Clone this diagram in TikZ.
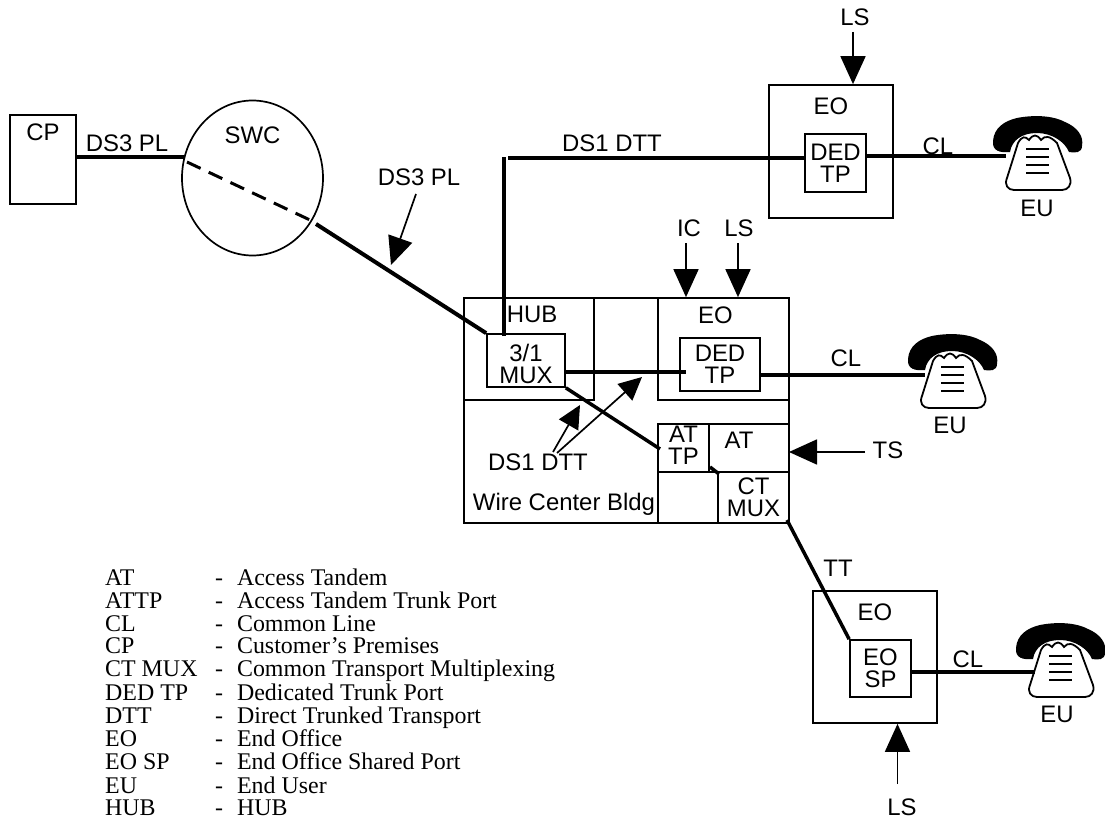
\documentclass[tikz,border=0pt]{standalone}
\usepackage{fontspec}
\setmainfont{Liberation Sans}
\newfontfamily\legendfont{Liberation Serif}
\usetikzlibrary{shapes,arrows.meta,positioning}

\begin{document}
\begin{tikzpicture}[
    x=1bp,y=-1bp,
    node distance=4bp,
    box node/.style={rectangle,draw,line width=1.7bp,inner sep=0pt,align=center,font=\fontsize{24}{22}\selectfont},
    text node/.style={inner sep=0pt,align=center,font=\fontsize{24}{22}\selectfont},
    pipe/.style={line width=4bp},
    thin pipe/.style={line width=3.5bp},
    arrow/.style={-{Stealth[length=28bp,width=25bp,inset=0pt]},line width=1.7bp},
    small arrow/.style={-{Stealth[length=23bp,width=22bp,inset=0pt]},line width=1.7bp},
    phone/.pic={
        % Auricular
        \fill[black] (-44,-67) .. controls (-43,-80) and (-33,-87) .. (-20,-90)
            .. controls (-5,-93) and (15,-93) .. (28,-86)
            .. controls (40,-81) and (47,-72) .. (45,-62)
            .. controls (45,-55) and (38,-55) .. (32,-56)
            .. controls (28,-66) and (15,-75) .. (0,-75)
            .. controls (-15,-75) and (-25,-68) .. (-27,-56)
            .. controls (-37,-55) and (-45,-57) .. (-44,-67) -- cycle;
        % Cuerpo
        \draw[fill=white,line width=1.8bp] (-19,-65) .. controls (-15,-72) and (-12,-72) .. (-8,-68)
            .. controls (-4,-74) and (0,-74) .. (4,-68)
            .. controls (8,-73) and (13,-72) .. (20,-65)
            -- (33,-30) .. controls (35,-23) and (31,-18) .. (25,-18)
            -- (-23,-18) .. controls (-29,-18) and (-33,-23) .. (-30,-30) -- cycle;
        \foreach \ypos in {-59,-51,-43,-35}
            \draw[line width=2.8bp] (-11,\ypos) -- (12,\ypos);
    }
]
\useasboundingbox (0,0) rectangle (1105,819);

% CP y SWC
\node[box node, minimum width=66bp, minimum height=89bp] (cp) at (43,159.5) {};
\node[text node, below=9bp of cp.north] (cplabel) {CP};
\node[draw, ellipse, line width=1.7bp, minimum width=141bp, minimum height=155bp, inner sep=0pt] (swc) at (252.5,178) {};
\node[text node, below=27bp of swc.north] (swclabel) {SWC};
\coordinate (cpout) at (76,157);
\coordinate (swcin) at (184,157);
\coordinate (swcdash) at (187,162);
\coordinate (swcout) at (310,220);
\coordinate (swcexit) at (316,224);
\node[text node] (dsleft) at (127,143) {DS3 PL};

% Edificio
\node[box node, minimum width=325bp, minimum height=225bp] (bldg) at (626.5,410.5) {};
\node[box node, minimum width=130bp, minimum height=102bp] (hub) at (529,349) {};
\node[text node, below=9bp of hub.north, xshift=3bp] (hublabel) {HUB};
\node[box node, minimum width=78bp, minimum height=53bp] (mux) at (526,360.5) {};
\node[text node, yshift=-3bp] (muxlabel) at (mux) {3/1\\MUX};
\node[box node, minimum width=131bp, minimum height=102bp] (eomid) at (723.5,349) {};
\node[text node, below=9bp of eomid.north, xshift=-8bp] (eomidlabel) {EO};
\node[box node, minimum width=80bp, minimum height=53bp] (dedmid) at (720,364.5) {DED\\TP};
\node[box node, minimum width=51bp, minimum height=48bp] (attp) at (683.5,448) {};
\node[text node, yshift=3bp] (attplabel) at (attp) {AT\\TP};
\node[box node, minimum width=80bp, minimum height=48bp] (at) at (749,448) {};
\node[text node, below=8.5bp of at.north, xshift=-10bp] (atlabel) {AT};
\node[box node, minimum width=60bp, minimum height=51bp] (emptycell) at (688,497.5) {};
\node[box node, minimum width=71bp, minimum height=51bp] (ctmux) at (753.5,497.5) {CT\\MUX};
\node[text node] (wirelabel) at (564,504) {Wire Center Bldg};
\node[text node] (dtlabel) at (538,462) {DS1 DTT};
\coordinate (tipone) at (580,405);
\coordinate (tiptwo) at (642,377);
\coordinate (tailone) at (553,452);
\coordinate (tailtwo) at (557,453);
\coordinate (muxtop) at (504,336);
\coordinate (muxright) at (565,372);
\coordinate (dedin) at (686,372);
\coordinate (dedout) at (760,375);
\coordinate (attpin) at (660,449);
\coordinate (atfoot) at (710,467);
\coordinate (ctfoot) at (719,474);

% EO superior
\node[box node, minimum width=124bp, minimum height=133bp] (eotop) at (831,151.5) {};
\node[text node, below=13.5bp of eotop.north] (eotoplabel) {EO};
\node[box node, minimum width=61bp, minimum height=58bp] (dedtop) at (835.5,163) {DED\\TP};
\node[text node] (lstop) at (855,17) {LS};
\node[text node] (dttop) at (612,143) {DS1 DTT};
\coordinate (corner) at (504,157);
\coordinate (cornerb) at (508,158);
\coordinate (dedtopin) at (805,158);
\coordinate (dedtopout) at (866,156);
\coordinate (lstail) at (853,32);

% Flechas de la parte central
\node[text node] (ic) at (689,228) {IC};
\node[text node] (lsmid) at (739,228) {LS};
\node[text node] (dsright) at (419,177) {DS3 PL};
\node[text node] (ts) at (888,450) {TS};
\coordinate (ictail) at (686,243);
\coordinate (lsmidtail) at (738,243);
\coordinate (dstail) at (416,194);
\coordinate (dstip) at (391,265);
\coordinate (tstail) at (865,452);
\coordinate (tstip) at (789,452);

% EO inferior
\node[box node, minimum width=124bp, minimum height=132bp] (eolow) at (875,657) {};
\node[text node, below=13.5bp of eolow.north] (eolowlabel) {EO};
\node[box node, minimum width=61bp, minimum height=57bp] (eosp) at (880.5,668.5) {EO\\SP};
\node[text node] (lslow) at (902,807) {LS};
\node[text node] (tt) at (838,568) {TT};
\coordinate (ctout) at (787,520);
\coordinate (lslowtail) at (897.5,784);

% Usuarios
\node[text node] (eua) at (1037,208) {EU};
\node[text node] (eub) at (950,425) {EU};
\node[text node] (euc) at (1057,714) {EU};
\pic at (1037,208) {phone};
\pic at (952,426) {phone};
\pic at (1060,715) {phone};
\coordinate (phonea) at (1006,156);
\coordinate (phoneb) at (925,375);
\coordinate (phonec) at (1035,672);
\node[text node] (cla) at (938,146) {CL};
\node[text node] (clb) at (846,358) {CL};
\node[text node] (clc) at (968,659) {CL};

% Conexiones
\draw[pipe] (cpout) -- (swcin);
\draw[line width=3bp, dash pattern=on 15bp off 9bp] (swcdash) -- (swcout);
\draw[pipe] (swcexit) -- (mux.north west);
\draw[pipe] (muxtop) -- (corner);
\draw[pipe] (cornerb) -- (dedtopin);
\draw[pipe] (muxright) -- (dedin);
\draw[thin pipe] (mux.south east) -- (attpin);
\draw[thin pipe] (atfoot) -- (ctfoot);
\draw[pipe] (dedout) -- (phoneb);
\draw[thin pipe] (dedtopout) -- (phonea);
\draw[thin pipe] (ctout) -- (eosp.north west);
\draw[pipe] (eosp.east |- phonec) -- (phonec);

% Flechas
\draw[arrow] (lstail) -- (lstail |- eotop.north);
\draw[arrow] (ictail) -- (ictail |- eomid.north);
\draw[arrow] (lsmidtail) -- (lsmidtail |- eomid.north);
\draw[arrow] (dstail) -- (dstip);
\draw[arrow] (tstail) -- (tstip);
\draw[arrow] (lslowtail) -- (lslowtail |- eolow.south);
\draw[small arrow] (tailone) -- (tipone);
\draw[small arrow] (tailtwo) -- (tiptwo);

% Leyenda
\node[anchor=north west, inner sep=0pt, font=\legendfont\fontsize{24}{21.9}\selectfont] (legend) at (105,569) {
    \begin{tabular}{@{}p{110.4pt}@{}p{22pt}@{}l@{}}
        AT & - & Access Tandem \\
        ATTP & - & Access Tandem Trunk Port \\
        CL & - & Common Line \\
        CP & - & Customer’s Premises \\
        CT MUX & - & Common Transport Multiplexing \\
        DED TP & - & Dedicated Trunk Port \\
        DTT & - & Direct Trunked Transport \\
        EO & - & End Office \\
        EO SP & - & End Office Shared Port \\
        EU & - & End User \\
        HUB & - & HUB
    \end{tabular}
};
\end{tikzpicture}
\end{document}
